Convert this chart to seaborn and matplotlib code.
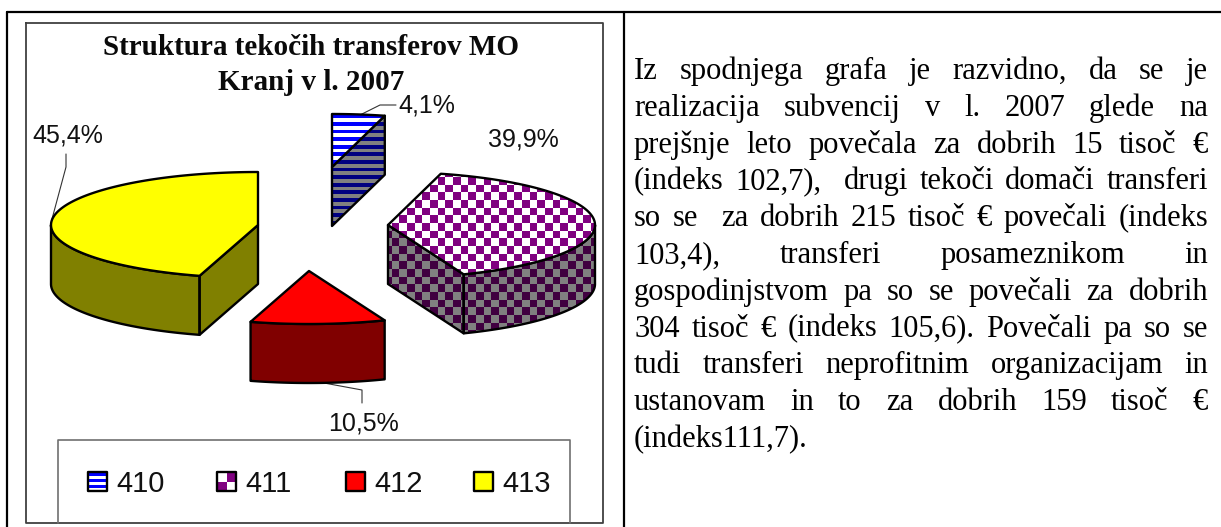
import numpy as np
import seaborn as sns
import matplotlib.pyplot as plt
from matplotlib.colors import to_rgb
from matplotlib.patches import Polygon

# share of each transfer group (percent)
categories = ['410', '411', '412', '413']
shares = [4.1, 39.9, 10.5, 45.4]
share_labels = ['4,1%', '39,9%', '10,5%', '45,4%']

chart_title = ['Struktura tekočih transferov MO', 'Kranj v l. 2007']

paragraph = [
    'Iz spodnjega grafa je razvidno, da se je',
    'realizacija subvencij v l. 2007 glede na',
    'prejšnje leto povečala za dobrih 15 tisoč €',
    '(indeks 102,7),  drugi tekoči domači transferi',
    'so se  za dobrih 215 tisoč € povečali (indeks',
    '103,4), transferi posameznikom in',
    'gospodinjstvom pa so se povečali za dobrih',
    '304 tisoč € (indeks 105,6). Povečali pa so se',
    'tudi transferi neprofitnim organizacijam in',
    'ustanovam in to za dobrih 159 tisoč €',
    '(indeks111,7).',
]

sns.set_theme(style='white')
plt.rcParams['font.family'] = ['Liberation Sans', 'DejaVu Sans']

# colours of the top and the side of each slice, with the second pattern colour
top_colors = sns.color_palette(['#0000ff', '#800080', '#ff0000', '#ffff00'])
side_colors = sns.color_palette(['#000080', '#400040', '#800000', '#808000'])
patterns = ['stripes', 'check', None, None]
top_back = ['white', 'white', None, None]
side_back = ['#808080', '#808080', None, None]

# layout in pixels
pie_center = (323, 222)
rx, ry, depth = 207, 53, 59
# how far each slice is pulled out of the pie
pull = [(9, -55), (65, 3), (-14, 49), (-65, 3)]

fig = plt.figure(figsize=(12.21, 5.27), dpi=100)
ax = fig.add_axes([0, 0, 1, 1])
ax.set_xlim(0, 1221)
ax.set_ylim(527, 0)
ax.set_autoscale_on(False)
ax.axis('off')


def fill_shape(verts, color, back=None, pattern=None, period=15.34, zorder=3, phase=None):
    poly = Polygon(verts, closed=True, facecolor=color, edgecolor='none', zorder=zorder)
    ax.add_patch(poly)
    if pattern is not None:
        x0, y0 = np.floor(verts.min(axis=0)).astype(int)
        x1, y1 = np.ceil(verts.max(axis=0)).astype(int)
        xx, yy = np.meshgrid(np.arange(x0, x1), np.arange(y0, y1))
        if phase is not None:
            # swatches start the pattern at their own corner
            xx = xx - x0 + phase
            yy = yy - y0
        if pattern == 'stripes':
            mask = np.floor(yy / (period / 2)) % 2 == 0
        else:
            mask = (np.floor(xx / (period / 2)) + np.floor(yy / (period / 2))) % 2 == 0
        img = np.where(mask[..., None], np.array(to_rgb(color)), np.array(to_rgb(back)))
        im = ax.imshow(img, extent=(x0, x1, y1, y0), interpolation='nearest',
                       aspect='auto', zorder=zorder)
        im.set_clip_path(poly)
    ax.add_patch(Polygon(verts, closed=True, facecolor='none', edgecolor='black',
                         linewidth=1.7, joinstyle='round', zorder=zorder + 0.5))


def ellipse_points(theta):
    # angle counted clockwise from the top of the pie
    return np.column_stack([rx * np.sin(theta), -ry * np.cos(theta)])


def extrude(points):
    lower = points[::-1] + np.array([0, depth])
    return np.vstack([points, lower])


ends = np.cumsum(shares) / np.sum(shares) * 2 * np.pi
starts = np.concatenate([[0], ends[:-1]])

for i in range(len(shares)):
    apex = np.array(pie_center) + np.array(pull[i])
    a, b = starts[i], ends[i]
    arc = ellipse_points(np.linspace(a, b, 120)) + apex
    stripe_period = 7.6 if patterns[i] == 'stripes' else 15.34

    # side faces that look towards the viewer
    if np.sin(a) < -1e-6:
        fill_shape(extrude(np.vstack([apex, arc[0]])), side_colors[i], side_back[i],
                   patterns[i], stripe_period)
    if -np.sin(b) < -1e-6:
        fill_shape(extrude(np.vstack([apex, arc[-1]])), side_colors[i], side_back[i],
                   patterns[i], stripe_period)
    front_a, front_b = max(a, np.pi / 2), min(b, 3 * np.pi / 2)
    if front_b > front_a:
        front = ellipse_points(np.linspace(front_a, front_b, 120)) + apex
        fill_shape(extrude(front), side_colors[i], side_back[i], patterns[i], stripe_period)

    fill_shape(np.vstack([apex, arc]), top_colors[i], top_back[i], patterns[i],
               stripe_period, zorder=4)

# slice labels and leader lines
label_pos = [(398, 113), (488, 146), (328, 431), (32, 142)]
for txt, pos in zip(share_labels, label_pos):
    ax.text(pos[0], pos[1], txt, fontsize=18, color='#111111', va='baseline', ha='left')
leaders = [
    ([396, 380, 360], [105, 105, 115]),
    ([324, 362, 362], [383, 390, 403]),
    ([66, 66, 52], [154, 167, 219]),
]
for xs, ys in leaders:
    ax.plot(xs, ys, color='#333333', linewidth=0.8, zorder=2)

# title
title_y = [55, 90]
for txt, y in zip(chart_title, title_y):
    ax.text(311, y, txt, family=['Liberation Serif'], fontweight='bold', fontsize=21,
            color='#0a0a0a', ha='center', va='baseline')

# chart area and legend frame
ax.plot([26, 603, 603, 26, 26], [23, 23, 523, 523, 23], color='#404040', linewidth=1.3, zorder=1)
ax.plot([58, 58, 570, 570], [523, 440, 440, 523], color='#707070', linewidth=1.2, zorder=1)

swatch_x = [88, 217, 346, 474]
for i, cat in enumerate(categories):
    x = swatch_x[i]
    box = np.array([[x, 472], [x + 19, 472], [x + 19, 491], [x, 491]], dtype=float)
    period = 6.4 if patterns[i] == 'stripes' else 19
    fill_shape(box, top_colors[i], top_back[i], patterns[i], period, phase=period / 2)
    ax.text(x + 28, 492, cat, fontsize=21, color='#111111', va='baseline', ha='left')

# table lines of the page
ax.plot([7, 7], [527, 12], color='black', linewidth=1.6)
ax.plot([7, 1221], [12, 12], color='black', linewidth=1.6)
ax.plot([624, 624], [12, 527], color='black', linewidth=1.6)

# justified paragraph, word by word
text_left, text_right = 634, 1208
line_y0, line_step = 79, 36.8
renderer = fig.canvas.get_renderer()
for n, line in enumerate(paragraph):
    y = line_y0 + n * line_step
    words = line.split(' ')
    items = [ax.text(0, y, w, family=['Liberation Serif'], fontsize=22, color='black',
                     va='baseline', ha='left') for w in words]
    widths = [t.get_window_extent(renderer).width if t.get_text() else 0 for t in items]
    if n == len(paragraph) - 1:
        gap = 7
    else:
        gap = (text_right - text_left - sum(widths)) / (len(words) - 1)
    x = text_left
    for t, w in zip(items, widths):
        t.set_x(x)
        x += w + gap

plt.savefig('out.png', dpi=100, facecolor='white')
